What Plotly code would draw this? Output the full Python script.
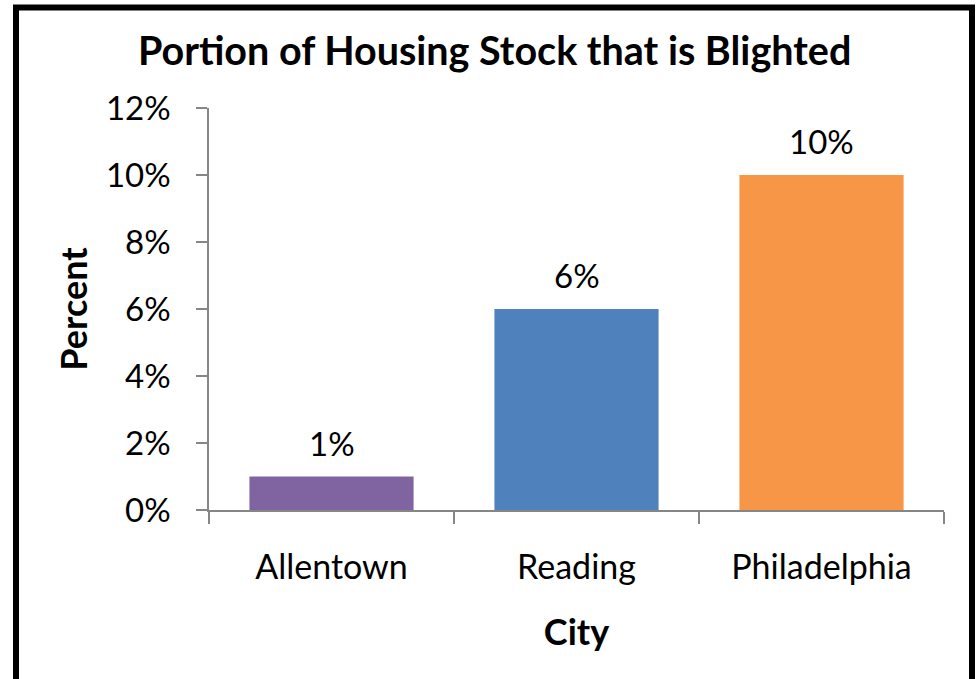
import plotly.graph_objects as go

# ── data ──────────────────────────────────────────────────────────────
CITIES = ["Allentown", "Reading", "Philadelphia"]
BLIGHTED = [0.01, 0.06, 0.10]
COLORS = ["#8064A2", "#4F81BD", "#F79646"]
Y_TICKS = [0, 0.02, 0.04, 0.06, 0.08, 0.10, 0.12]

FONT = "Lato, 'Open Sans', Arial, sans-serif"
AXIS_GREY = "#868686"

# plot area in pixels (for placing border / title in paper coords)
W, H = 976, 679
L, R, T, B = 209, 32, 108, 169
PW, PH = W - L - R, H - T - B


def px_x(px):
    return (px - L) / PW


def px_y(py):
    return (H - B - py) / PH


fig = go.Figure()

fig.add_trace(go.Bar(
    x=CITIES, y=BLIGHTED,
    marker=dict(color=COLORS, line_width=0),
    hoverinfo="skip",
))

# value labels, a bit higher above the bars than plotly's default padding
for city, val in zip(CITIES, BLIGHTED):
    fig.add_annotation(
        x=city, y=val, xref="x", yref="y",
        text=f"{val:.0%}",
        showarrow=False,
        yanchor="bottom", yshift=12,
        font=dict(size=33, color="#000000", family=FONT),
    )

fig.update_layout(
    width=W, height=H,
    margin=dict(l=L, r=R, t=T, b=B, autoexpand=False),
    paper_bgcolor="#FFFFFF",
    plot_bgcolor="#FFFFFF",
    showlegend=False,
    bargap=0.33,
    font=dict(family=FONT, color="#000000"),
)

fig.update_yaxes(
    range=[0, 0.12],
    tickvals=Y_TICKS,
    tickformat=".0%",
    tickfont=dict(size=33),
    ticks="outside", ticklen=11, tickcolor=AXIS_GREY, tickwidth=1.5,
    ticklabelstandoff=19,
    showline=True, linecolor=AXIS_GREY, linewidth=1.5,
    showgrid=False, zeroline=False,
    title=dict(text="<b>Percent</b>", font=dict(size=36), standoff=7),
)

fig.update_xaxes(
    tickfont=dict(size=34),
    ticks="outside", ticklen=12, tickcolor=AXIS_GREY, tickwidth=1.5,
    tickson="boundaries",
    ticklabelstandoff=26,
    showline=True, linecolor=AXIS_GREY, linewidth=1.5,
    title=dict(text="<b>City</b>", font=dict(size=36), standoff=35),
)

# title as annotation, centred on the framed area
fig.add_annotation(
    text="<b>Portion of Housing Stock that is Blighted</b>",
    xref="paper", yref="paper",
    x=px_x(494), y=px_y(49),
    xanchor="center", yanchor="middle",
    showarrow=False,
    font=dict(size=39.5, family=FONT, color="#000000"),
)

# black frame, open at the bottom (cut off in the original)
xl, xr = px_x(16), px_x(972)
yt, yb = px_y(7.5), px_y(700)
fig.add_shape(
    type="path",
    path=f"M {xl},{yb} L {xl},{yt} L {xr},{yt} L {xr},{yb}",
    xref="paper", yref="paper",
    line=dict(color="#000000", width=6),
    layer="above",
)

fig.write_html(
    "out.html",
    config={"displayModeBar": False},
    post_script="document.body.style.margin='0';",
)
